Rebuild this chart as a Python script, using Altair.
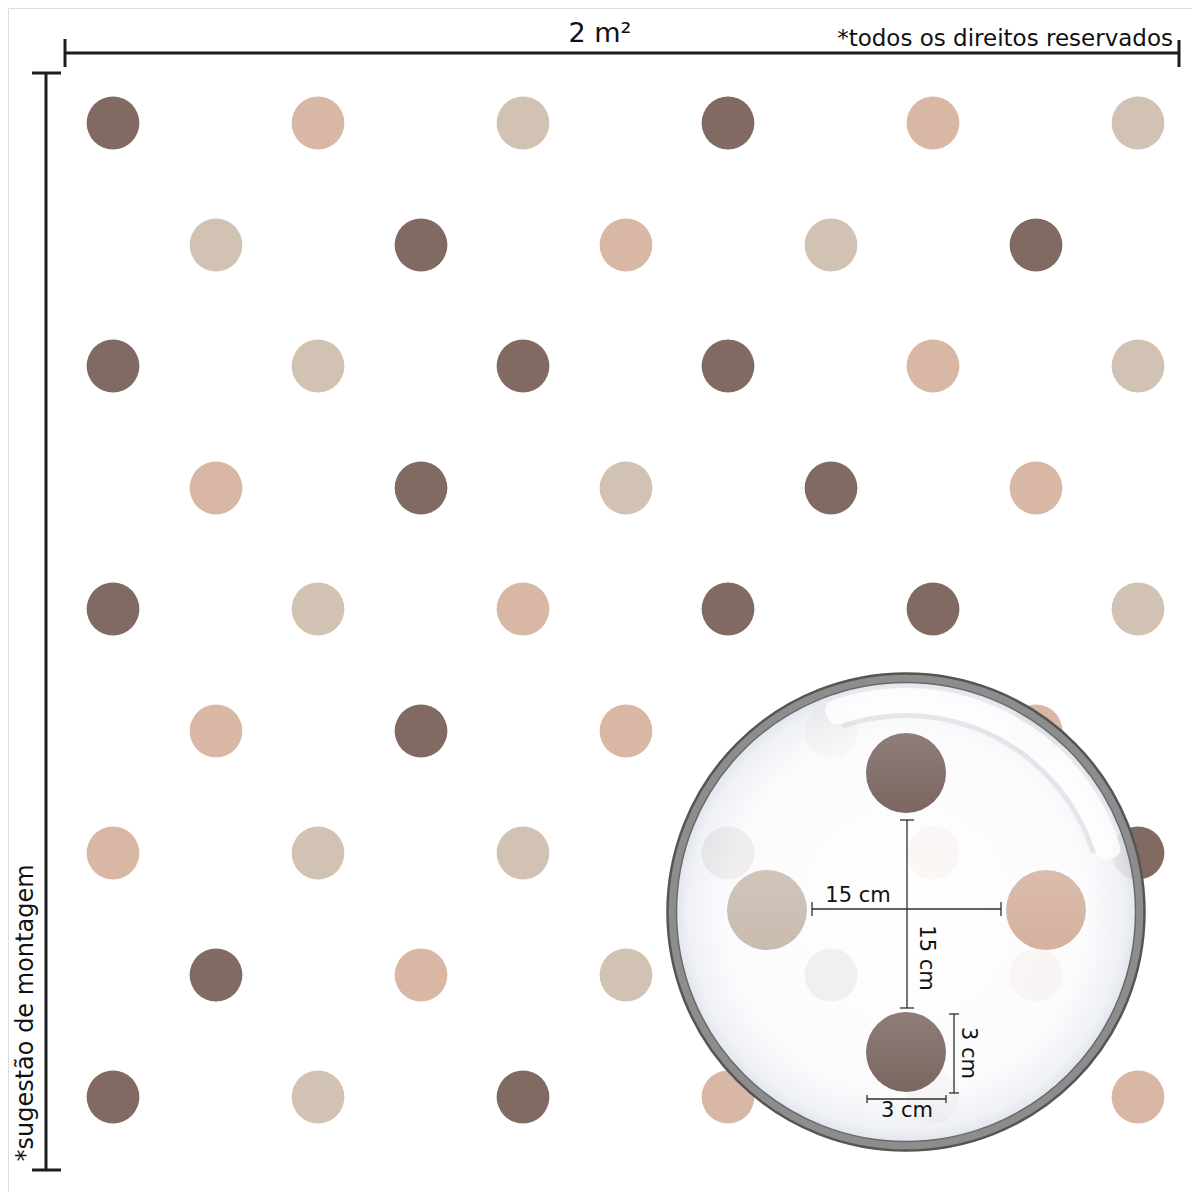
import altair as alt
import pandas as pd

# ---- data (page-pixel coordinate system) ----
COL_X = [113, 216, 318, 421, 523, 626, 728, 831, 933, 1036, 1138]
ROW_Y = [123, 245, 366, 488, 609, 731, 853, 975, 1097]
ROW_COLORS = [
    ["dark", "pink", "beige", "dark", "pink", "beige"],
    ["beige", "dark", "pink", "beige", "dark"],
    ["dark", "beige", "dark", "dark", "pink", "beige"],
    ["pink", "dark", "beige", "dark", "pink"],
    ["dark", "beige", "pink", "dark", "dark", "beige"],
    ["pink", "dark", "pink", "beige", "pink"],
    ["pink", "beige", "beige", "dark", "pink", "dark"],
    ["dark", "pink", "beige", "dark", "pink"],
    ["dark", "beige", "dark", "pink", "beige", "pink"],
]
COLOR_NAMES = ["dark", "pink", "beige"]
COLOR_HEX = ["#806a62", "#d9b7a5", "#d1c2b4"]
# magnified dots: top / bottom shades of each colour
MAG_TOP = {"dark": "#8f7d79", "pink": "#dbbcac", "beige": "#d1c4b9"}
MAG_BOT = {"dark": "#7b6660", "pink": "#d5b19e", "beige": "#c9bbae"}

MAG_X = [906, 767, 1046, 906]
MAG_Y = [773, 910, 910, 1052]
MAG_C = ["dark", "beige", "pink", "dark"]

LENS_X = [906]
LENS_Y = [912]

MAIN_SEG_X = [65, 65, 1179, 46, 32, 32]
MAIN_SEG_Y = [53, 39, 40, 73, 73, 1170]
MAIN_SEG_X2 = [1180, 65, 1179, 46, 61, 61]
MAIN_SEG_Y2 = [53, 67, 67, 1170, 73, 1170]

DIM_SEG_X = [812, 812, 1001, 907, 900, 900, 954, 949, 949, 867, 867, 946]
DIM_SEG_Y = [909, 902, 902, 820, 820, 1008, 1014, 1014, 1093, 1099, 1095, 1095]
DIM_SEG_X2 = [1001, 812, 1001, 907, 914, 914, 954, 959, 959, 946, 867, 946]
DIM_SEG_Y2 = [909, 916, 916, 1008, 820, 1008, 1093, 1014, 1093, 1099, 1103, 1103]

LABELS = ["2 m²", "15 cm", "3 cm"]

# ---- tables ----
rows = []
for r, (y, colors) in enumerate(zip(ROW_Y, ROW_COLORS)):
    cols = COL_X[0::2] if r % 2 == 0 else COL_X[1::2]
    for x, c in zip(cols, colors):
        rows.append({"x": x, "y": y, "c": c})
dots = pd.DataFrame(rows)
mag = pd.DataFrame({"x": MAG_X, "y": MAG_Y, "c": MAG_C})
lens = pd.DataFrame({"x": LENS_X, "y": LENS_Y})
main_seg = pd.DataFrame({"x": MAIN_SEG_X, "y": MAIN_SEG_Y, "x2": MAIN_SEG_X2, "y2": MAIN_SEG_Y2})
dim_seg = pd.DataFrame({"x": DIM_SEG_X, "y": DIM_SEG_Y, "x2": DIM_SEG_X2, "y2": DIM_SEG_Y2})

W = 1184
xs = alt.Scale(domain=[8, 1192], zero=False, nice=False)
ys = alt.Scale(domain=[8, 1192], zero=False, nice=False, reverse=True)
cs = alt.Scale(domain=COLOR_NAMES, range=COLOR_HEX)
X = lambda f="x": alt.X(f"{f}:Q", scale=xs, axis=None)
Y = lambda f="y": alt.Y(f"{f}:Q", scale=ys, axis=None)

def area(r):
    # Vega circle symbol: radius = sqrt(size) / 2
    return (2 * r) ** 2

grid = alt.Chart(dots).mark_circle(opacity=1).encode(
    x=X(), y=Y(), color=alt.Color("c:N", scale=cs, legend=None),
    size=alt.value(area(26.4)))

lens_fill = alt.Chart(lens).mark_circle(
    fill=alt.RadialGradient(gradient="radial", stops=[
        alt.GradientStop(offset=0, color="#ffffff"),
        alt.GradientStop(offset=0.78, color="#fbfbfd"),
        alt.GradientStop(offset=0.94, color="#eef0f5"),
        alt.GradientStop(offset=1, color="#dde2ea")]),
    fillOpacity=0.9, opacity=1
).encode(x=X(), y=Y(), size=alt.value(area(231)))

mag_layers = []
for name in COLOR_NAMES:
    mag_layers.append(
        alt.Chart(mag).transform_filter(alt.datum.c == name).mark_circle(
            fill=alt.LinearGradient(gradient="linear", x1=0, y1=0, x2=0, y2=1, stops=[
                alt.GradientStop(offset=0, color=MAG_TOP[name]),
                alt.GradientStop(offset=1, color=MAG_BOT[name])]),
            opacity=1, fillOpacity=1
        ).encode(x=X(), y=Y(), size=alt.value(area(40)))
    )

main_rules = alt.Chart(main_seg).mark_rule(color="#1c1c1c", strokeWidth=3).encode(
    x=X(), y=Y(), x2="x2:Q", y2="y2:Q")
dim_rules = alt.Chart(dim_seg).mark_rule(color="#2e2e2e", strokeWidth=1.3).encode(
    x=X(), y=Y(), x2="x2:Q", y2="y2:Q")

FONT = "DejaVu Sans"
def txt(label, x, y, size, angle=0, align="center", baseline="middle"):
    d = pd.DataFrame({"x": [x], "y": [y], "t": [label]})
    kw = dict(font=FONT, fontSize=size, color="#111111", align=align, baseline=baseline)
    if angle:
        kw["angle"] = angle
    return alt.Chart(d).mark_text(**kw).encode(x=X(), y=Y(), text="t:N")

texts = [
    txt(LABELS[0], 600, 34, 27),
    txt("*todos os direitos reservados", 1173, 46, 23, align="right", baseline="alphabetic"),
    txt("*sugestão de montagem", 26, 1013, 24, angle=270),
    txt(LABELS[1], 858, 896, 21),
    txt(LABELS[1], 926, 958, 21, angle=90),
    txt(LABELS[2], 968, 1053, 21, angle=90),
    txt(LABELS[2], 907, 1111, 21),
]

rim = alt.Chart(lens).mark_circle(filled=False, stroke="#8d8d8d", strokeWidth=9, opacity=1).encode(
    x=X(), y=Y(), size=alt.value(area(234)))
rim_outer = alt.Chart(lens).mark_circle(filled=False, stroke="#555555", strokeWidth=2.5, opacity=1).encode(
    x=X(), y=Y(), size=alt.value(area(238.5)))
rim_inner = alt.Chart(lens).mark_circle(filled=False, stroke="#6a6a6a", strokeWidth=1.5, opacity=1).encode(
    x=X(), y=Y(), size=alt.value(area(229.5)))

# glossy highlight: soft grey shadow band with a white crescent outside it
shade = alt.Chart(lens).mark_arc(
    theta=5.95, theta2=7.55, radius=199, radius2=194, cornerRadius=2.5,
    color="#cdd0d7", opacity=0.45
).encode(x=X(), y=Y())
white_wide = alt.Chart(lens).mark_arc(
    theta=5.9, theta2=7.6, radius=224, radius2=199, cornerRadius=10,
    color="#ffffff", opacity=0.8
).encode(x=X(), y=Y())

chart = alt.layer(
    grid, lens_fill, *mag_layers, main_rules, dim_rules, *texts,
    shade, white_wide, rim, rim_outer, rim_inner
).properties(
    width=W, height=W, padding=0, autosize=alt.AutoSizeParams(type="none")
).configure_view(stroke=None).configure(background="#ffffff")

chart.save("out.html", embed_options={"renderer": "svg", "actions": False})
